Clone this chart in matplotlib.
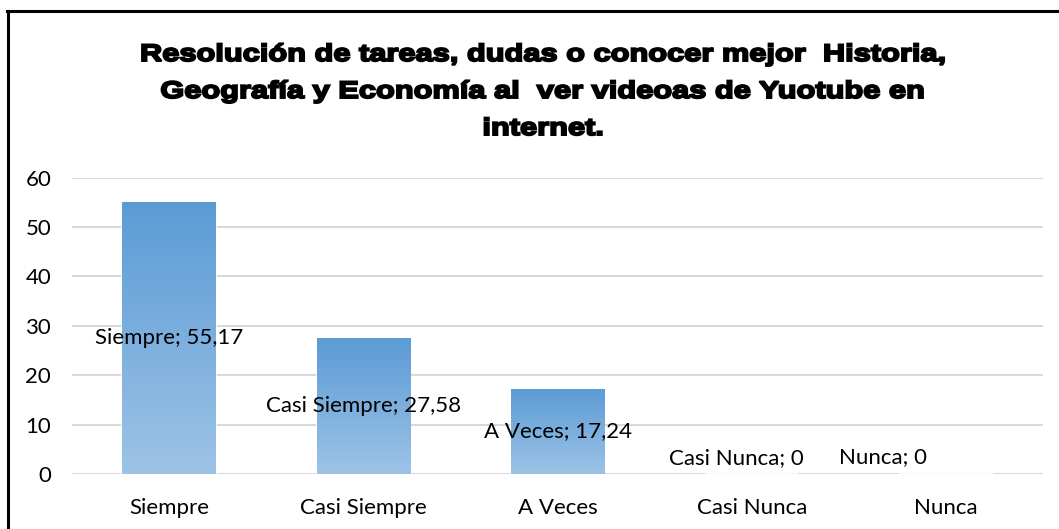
import matplotlib
matplotlib.use("Agg")
import matplotlib.pyplot as plt
from matplotlib.lines import Line2D
from matplotlib.colors import LinearSegmentedColormap
from matplotlib.textpath import TextPath
from matplotlib.patches import PathPatch
from matplotlib.font_manager import FontProperties
from matplotlib.transforms import Affine2D
import numpy as np

# data
categories = ["Siempre", "Casi Siempre", "A Veces", "Casi Nunca", "Nunca"]
values = [55.17, 27.58, 17.24, 0, 0]
value_labels = ["55,17", "27,58", "17,24", "0", "0"]
yticks = [0, 10, 20, 30, 40, 50, 60]
title_lines = ["Resolución de tareas, dudas o conocer mejor  Historia,",
               "Geografía y Economía al  ver videoas de Yuotube en",
               "internet."]

W, H = 1059, 529
body_font = "Lato"

fig = plt.figure(figsize=(W / 100, H / 100), dpi=100)
ax = fig.add_axes([72 / W, 1 - 474 / H, (1043 - 72) / W, (474 - 177.7) / H])

x = np.arange(len(categories))
bars = ax.bar(x, values, width=0.48, color="#7aaee0", edgecolor="white", linewidth=1.2, zorder=2)

# vertical gradient inside each bar: darker on top, lighter at the bottom
grad = LinearSegmentedColormap.from_list("g", ["#9dc3e6", "#5b9bd5"])
for b in bars:
    h = b.get_height()
    if h <= 0:
        continue
    x0 = b.get_x()
    w = b.get_width()
    img = ax.imshow(np.linspace(0, 1, 256).reshape(-1, 1), cmap=grad, origin="lower",
                    extent=[x0, x0 + w, 0, h], aspect="auto", zorder=2.5)
    img.set_clip_path(b)

ax.set_xlim(-0.5, len(categories) - 0.5)
ax.set_ylim(0, 60)
ax.set_yticks(yticks)
ax.set_xticks(x)
ax.set_xticklabels(categories)
ax.yaxis.grid(True, color="#d9d9d9", linewidth=1.5, zorder=0)
ax.set_axisbelow(True)
for s in ax.spines.values():
    s.set_visible(False)
ax.tick_params(axis="both", length=0, labelsize=16, colors="black")
ax.tick_params(axis="y", pad=15)
ax.tick_params(axis="x", pad=17)
for lab in ax.get_xticklabels() + ax.get_yticklabels():
    lab.set_fontfamily(body_font)

# data labels (Excel puts them centred; zero bars get nudged)
offsets = [(0, 0), (0, 0), (0, 0), (-11, 11.5), (-45, 12)]
for xi, v, lbl, cat, off in zip(x, values, value_labels, categories, offsets):
    ax.annotate(f"{cat}; {lbl}", (xi, v / 2), xytext=off, textcoords="offset points",
                ha="center", va="center", fontsize=16, family=body_font, zorder=5)

# title: heavy, wide lettering (Arial Black look) -> bold text paths stretched horizontally
prop = FontProperties(family="Liberation Sans", weight="bold")
paths = [TextPath((0, 0), line, size=24, prop=prop) for line in title_lines]
widths = [p.get_extents().width for p in paths]
sx = 802 / widths[0]
for i, (p, w) in enumerate(zip(paths, widths)):
    baseline = 61 + 37 * i
    tr = (Affine2D().translate(-w / 2, 0).scale(sx, 1).translate(541, H - baseline)
          .scale(1 / W, 1 / H) + fig.transFigure)
    fig.add_artist(PathPatch(p, transform=tr, facecolor="black", edgecolor="black", linewidth=1.4))

# chart border (top and left edges visible in the crop)
fig.add_artist(Line2D([7 / W, 1], [1 - 11 / H, 1 - 11 / H], transform=fig.transFigure,
                      color="black", linewidth=2.2))
fig.add_artist(Line2D([8 / W, 8 / W], [0, 1 - 11 / H], transform=fig.transFigure,
                      color="black", linewidth=2.2))

fig.savefig("out.png", dpi=100)
